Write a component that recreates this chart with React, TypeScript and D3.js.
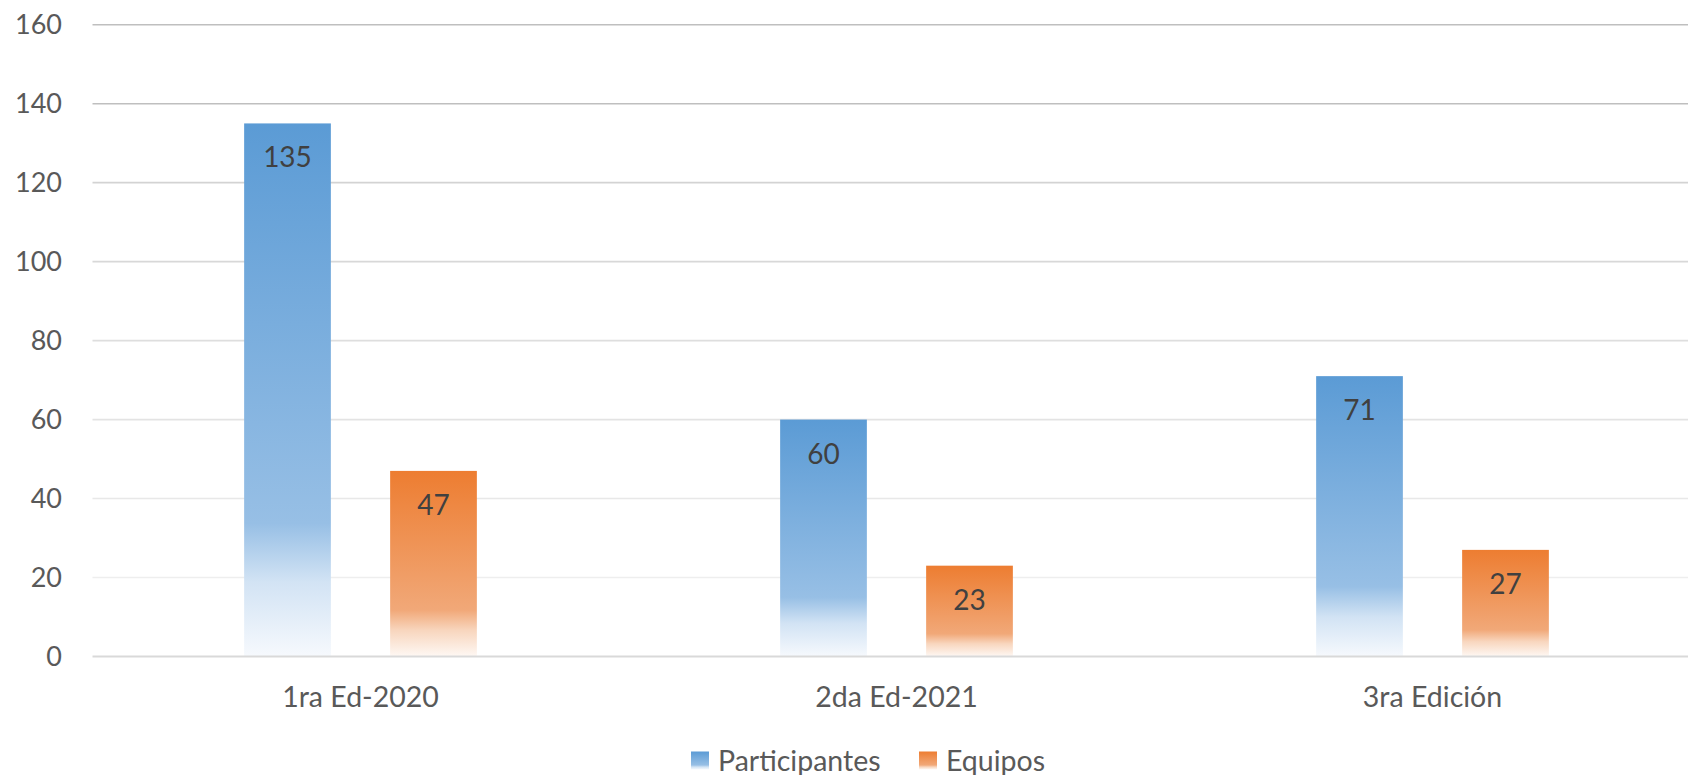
import React from "react";
import * as d3 from "d3";

const categories = ["1ra Ed-2020", "2da Ed-2021", "3ra Edición"];
const seriesNames = ["Participantes", "Equipos"];
const participantes = [135, 60, 71];
const equipos = [47, 23, 27];
const yTicks = [0, 20, 40, 60, 80, 100, 120, 140, 160];

const W = 1688;
const H = 775;
const FONT = "Lato, 'Open Sans', sans-serif";
const gradStops = [
  ["#5B9BD5", "#97BFE5", "#D2E3F4", "#F6F9FD"],
  ["#ED7D31", "#F1A878", "#F8D6BE", "#FEF8F4"],
];
const stopOffsets = [0, 0.75, 0.86, 1];

export default function App() {
  const values = [participantes, equipos];
  const x0 = d3.scaleBand<string>().domain(categories).range([92.5, 1700.5]).padding(0);
  const x1 = d3
    .scaleBand<string>()
    .domain(seriesNames)
    .range([0, x0.bandwidth()])
    .paddingInner(0.406)
    .paddingOuter(1.0386);
  const y = d3.scaleLinear().domain([0, 160]).range([656.5, 24.7]);
  const gridColor = d3
    .scaleLinear<string>()
    .domain([0, 120, 140, 160])
    .range(["#F3F3F3", "#D3D3D3", "#BFBFBF", "#BFBFBF"]);

  return (
    <svg
      width={W}
      height={H}
      style={{ position: "absolute", left: 0, top: 0, background: "#fff" }}
      fontFamily={FONT}
    >
      <defs>
        {seriesNames.map((s, i) => (
          <linearGradient key={s} id={`g${i}`} x1="0" y1="0" x2="0" y2="1">
            {stopOffsets.map((o, j) => (
              <stop key={j} offset={o} stopColor={gradStops[i][j]} />
            ))}
          </linearGradient>
        ))}
      </defs>
      <rect width={W} height={H} fill="#fff" />
      {yTicks.map((t) =>
        t === 0 ? null : (
          <line
            key={t}
            x1={92.5}
            x2={W}
            y1={y(t)}
            y2={y(t)}
            stroke={gridColor(t)}
            strokeWidth={1.6}
          />
        )
      )}
      {yTicks.map((t) => (
        <text
          key={"l" + t}
          x={62}
          y={y(t)}
          dy="0.36em"
          textAnchor="end"
          fontSize={27}
          fill="#595959"
        >
          {t}
        </text>
      ))}
      {categories.map((c, ci) => (
        <g key={c} transform={`translate(${x0(c)},0)`}>
          {seriesNames.map((s, si) => {
            const v = values[si][ci];
            const bx = x1(s)!;
            return (
              <g key={s}>
                <rect
                  x={bx}
                  y={y(v)}
                  width={x1.bandwidth()}
                  height={y(0) - y(v)}
                  fill={`url(#g${si})`}
                />
                <text
                  x={bx + x1.bandwidth() / 2}
                  y={y(v) + 34}
                  dy="0.36em"
                  textAnchor="middle"
                  fontSize={28}
                  fill="#404040"
                >
                  {v}
                </text>
              </g>
            );
          })}
          <text
            x={x0.bandwidth() / 2}
            y={697}
            dy="0.36em"
            textAnchor="middle"
            fontSize={28.5}
            fill="#595959"
          >
            {c}
          </text>
        </g>
      ))}
      <line x1={92.5} x2={W} y1={y(0)} y2={y(0)} stroke="#D9D9D9" strokeWidth={2} />
      {seriesNames.map((s, i) => {
        const lx = i === 0 ? 691 : 919;
        return (
          <g key={"leg" + s}>
            <rect x={lx} y={751.5} width={18} height={18} fill={`url(#g${i})`} />
            <text x={lx + 27} y={760.5} dy="0.36em" fontSize={28.5} fill="#595959">
              {s}
            </text>
          </g>
        );
      })}
    </svg>
  );
}
